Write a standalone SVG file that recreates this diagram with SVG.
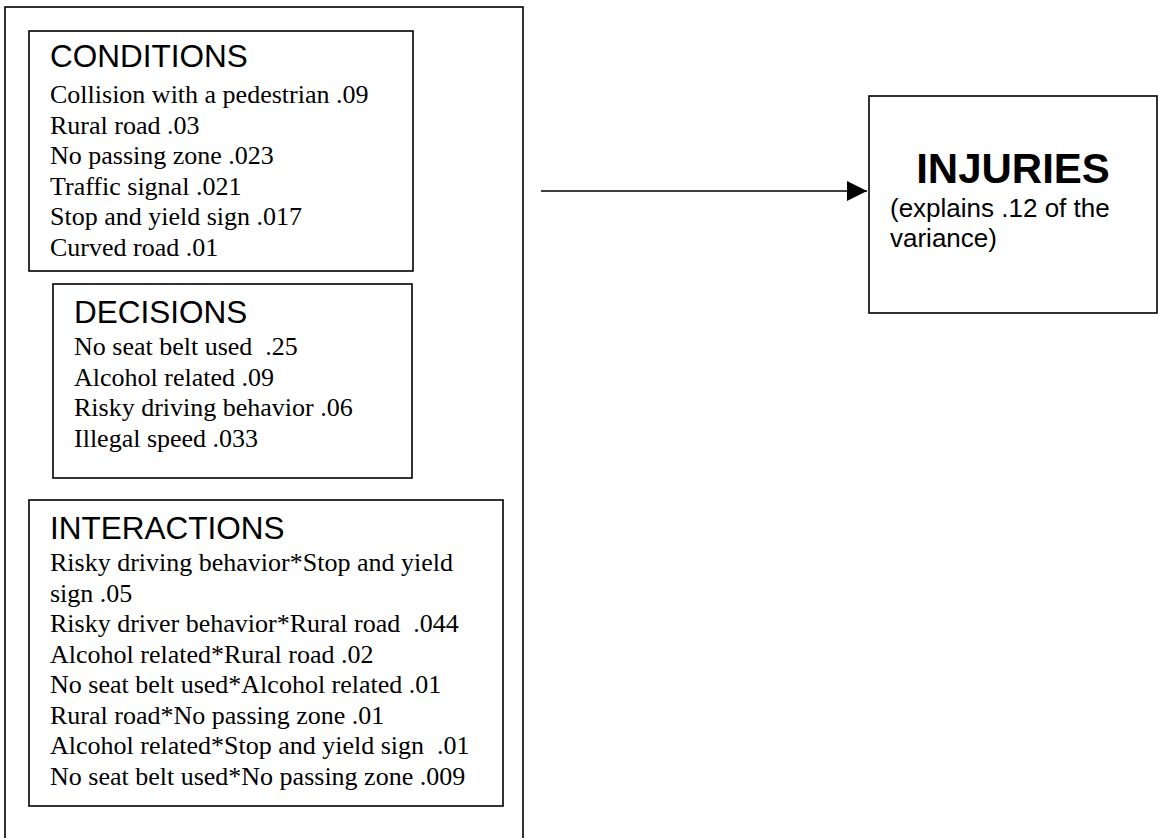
<svg xmlns="http://www.w3.org/2000/svg" width="1158" height="838" viewBox="0 0 1158 838">
<style>
.box{fill:#fff;stroke:#000;stroke-width:1.6}
.head{font-family:"Liberation Sans",Arial,sans-serif;font-size:31.5px;fill:#000}
.body{font-family:"Liberation Serif","Times New Roman",serif;font-size:26px;fill:#000}
.inj{font-family:"Liberation Sans",Arial,sans-serif;font-size:42px;font-weight:bold;fill:#000}
.sub{font-family:"Liberation Sans",Arial,sans-serif;font-size:26px;fill:#000}
.conn{stroke:#000;stroke-width:1.6;fill:none}
</style>
<defs>
<marker id="arr" markerWidth="20" markerHeight="20" refX="20" refY="10" orient="auto" markerUnits="userSpaceOnUse">
<path d="M0,0 L20,10 L0,20 Z" fill="#000"/>
</marker>
</defs>
<rect x="0" y="0" width="1158" height="838" fill="#fff"/>
<g id="predictors">
<rect class="box" x="5" y="7" width="518" height="840"/>
</g>
<g id="conditions">
<rect class="box" x="29" y="31" width="384" height="240"/>
<text class="head" x="50" y="67">CONDITIONS</text>
<text class="body" x="50" y="103">Collision with a pedestrian .09</text>
<text class="body" x="50" y="133.5">Rural road .03</text>
<text class="body" x="50" y="164">No passing zone .023</text>
<text class="body" x="50" y="194.5">Traffic signal .021</text>
<text class="body" x="50" y="225">Stop and yield sign .017</text>
<text class="body" x="50" y="255.5">Curved road .01</text>
</g>
<g id="decisions">
<rect class="box" x="53" y="284" width="359" height="194"/>
<text class="head" x="74" y="323">DECISIONS</text>
<text class="body" x="74" y="355" xml:space="preserve">No seat belt used  .25</text>
<text class="body" x="74" y="385.5">Alcohol related .09</text>
<text class="body" x="74" y="416">Risky driving behavior .06</text>
<text class="body" x="74" y="446.5">Illegal speed .033</text>
</g>
<g id="interactions">
<rect class="box" x="29" y="500" width="474" height="306"/>
<text class="head" x="50" y="539">INTERACTIONS</text>
<text class="body" x="50" y="571">Risky driving behavior*Stop and yield</text>
<text class="body" x="50" y="601.5">sign .05</text>
<text class="body" x="50" y="632" xml:space="preserve">Risky driver behavior*Rural road  .044</text>
<text class="body" x="50" y="662.5">Alcohol related*Rural road .02</text>
<text class="body" x="50" y="693">No seat belt used*Alcohol related .01</text>
<text class="body" x="50" y="723.5">Rural road*No passing zone .01</text>
<text class="body" x="50" y="754" xml:space="preserve">Alcohol related*Stop and yield sign  .01</text>
<text class="body" x="50" y="784.5">No seat belt used*No passing zone .009</text>
</g>
<g id="injuries">
<rect class="box" x="869" y="96" width="288" height="217"/>
<text class="inj" x="1013" y="183" text-anchor="middle">INJURIES</text>
<text class="sub" x="890" y="217">(explains .12 of the</text>
<text class="sub" x="890" y="247">variance)</text>
</g>
<g id="connectors">
<line class="conn" x1="541" y1="191" x2="867" y2="191" marker-end="url(#arr)"/>
</g>
</svg>
